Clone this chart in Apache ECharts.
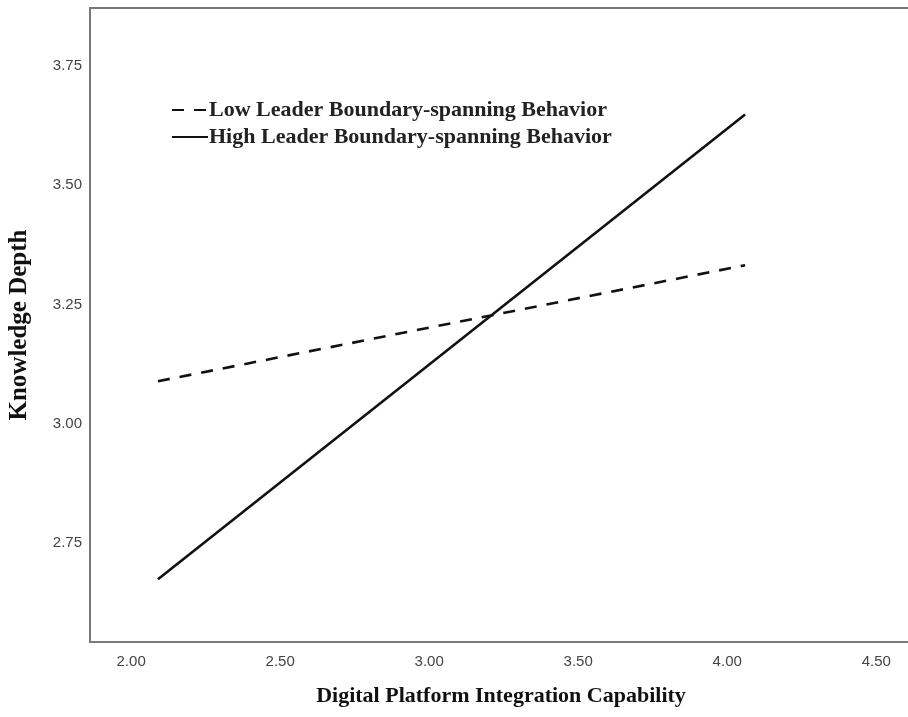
<!DOCTYPE html>
<html>
<head>
<meta charset="utf-8">
<script src="https://cdn.jsdelivr.net/npm/echarts@6/dist/echarts.min.js"></script>
<style>
html,body{margin:0;padding:0;background:#fff;}
#chart{width:908px;height:717px;}
</style>
</head>
<body>
<div id="chart"></div>
<script>
// Data
const xTicks = [2.00, 2.50, 3.00, 3.50, 4.00, 4.50];
const yTicks = [2.75, 3.00, 3.25, 3.50, 3.75];
const xEnds = [2.09, 4.06];
const lowValues = [3.089, 3.332];
const highValues = [2.674, 3.648];
const seriesNames = ['Low Leader Boundary-spanning Behavior', 'High Leader Boundary-spanning Behavior'];
const xTitle = 'Digital Platform Integration Capability';
const yTitle = 'Knowledge Depth';

const chart = echarts.init(document.getElementById('chart'));
const serif = '"Liberation Serif", "DejaVu Serif", serif';
const sans = '"Liberation Sans", Arial, sans-serif';

chart.setOption({
  animation: false,
  backgroundColor: '#fff',
  grid: {
    left: 90, top: 8, width: 822, height: 634,
    outerBoundsMode: 'none', containLabel: false,
    show: true, borderColor: '#7a7a7a', borderWidth: 2, backgroundColor: 'transparent'
  },
  legend: {
    orient: 'vertical',
    left: 166, top: 94,
    itemWidth: 36, itemHeight: 14, itemGap: 5,
    itemStyle: { opacity: 0 },
    textStyle: { fontFamily: serif, fontWeight: 'bold', fontSize: 22, color: '#222', padding: [0,0,0,-4] },
    data: seriesNames
  },
  xAxis: {
    type: 'value', min: 1.862, max: 4.62,
    name: xTitle, nameLocation: 'middle', nameGap: 43,
    nameTextStyle: { fontFamily: serif, fontWeight: 'bold', fontSize: 22, color: '#111', verticalAlign: 'top' },
    axisLine: { show: false }, axisTick: { show: false }, splitLine: { show: false },
    axisLabel: { customValues: xTicks, formatter: v => v.toFixed(2), fontFamily: sans, fontSize: 15, color: '#444', margin: 12 }
  },
  yAxis: {
    type: 'value', min: 2.5426, max: 3.871,
    name: yTitle, nameLocation: 'middle', nameGap: 58, nameRotate: 90,
    nameTextStyle: { fontFamily: serif, fontWeight: 'bold', fontSize: 25, color: '#111' },
    axisLine: { show: false }, axisTick: { show: false }, splitLine: { show: false },
    axisLabel: { customValues: yTicks, formatter: v => v.toFixed(2), fontFamily: sans, fontSize: 15, color: '#444', margin: 8 }
  },
  series: [
    {
      name: seriesNames[0], type: 'line', symbol: 'none',
      data: xEnds.map((x, i) => [x, lowValues[i]]),
      lineStyle: { color: '#111', width: 2.6, type: [12, 10] },
      itemStyle: { color: '#111' }
    },
    {
      name: seriesNames[1], type: 'line', symbol: 'none',
      data: xEnds.map((x, i) => [x, highValues[i]]),
      lineStyle: { color: '#111', width: 2.6, type: 'solid' },
      itemStyle: { color: '#111' }
    }
  ]
});
</script>
</body>
</html>
